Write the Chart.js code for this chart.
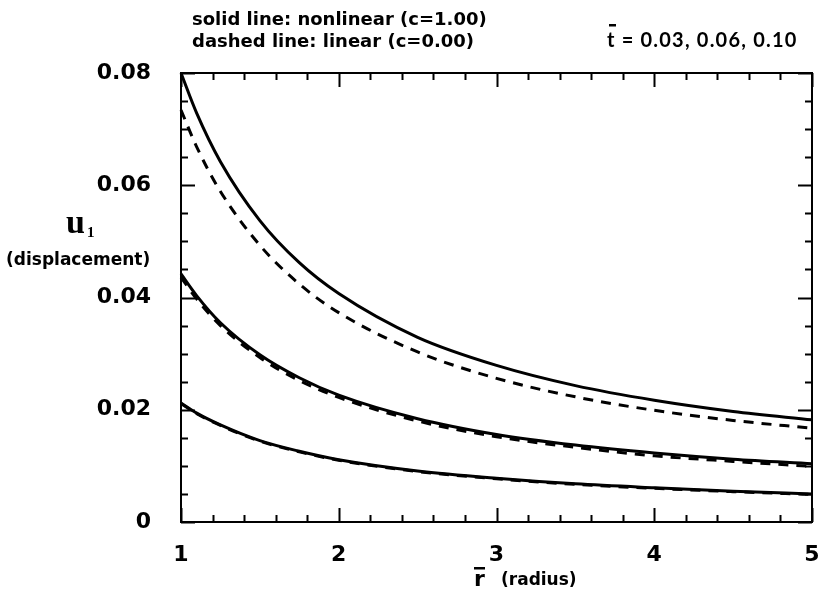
<!DOCTYPE html>
<html><head><meta charset="utf-8">
<script src="https://cdn.jsdelivr.net/npm/chart.js@4"></script>
<style>html,body{margin:0;padding:0;background:#fff}#wrap{width:824px;height:603px;position:relative}</style>
</head><body><div id="wrap"><canvas id="c" width="824" height="603"></canvas></div>
<script>
// radius values (x) at which the curves were read
const radius = [1, 1.1, 1.25, 1.5, 1.75, 2, 2.5, 3, 3.5, 4, 4.5, 5];
// t = 0.10
const nonlinear_t010 = [0.0800, 0.0728, 0.0642, 0.0537, 0.0462, 0.0407, 0.0329, 0.0279, 0.0243, 0.0217, 0.0197, 0.0182];
const linear_t010    = [0.0734, 0.0668, 0.0589, 0.0493, 0.0424, 0.0373, 0.0303, 0.0256, 0.0223, 0.0199, 0.0181, 0.0167];
// t = 0.06
const nonlinear_t006 = [0.0442, 0.0403, 0.0355, 0.0298, 0.0257, 0.0226, 0.0184, 0.0156, 0.0137, 0.0123, 0.0112, 0.0104];
const linear_t006    = [0.0436, 0.0397, 0.0350, 0.0293, 0.0252, 0.0222, 0.0180, 0.0152, 0.0133, 0.0118, 0.0108, 0.0099];
// t = 0.03
const nonlinear_t003 = [0.0212, 0.0194, 0.0173, 0.0145, 0.0126, 0.0111, 0.0091, 0.0078, 0.0068, 0.0061, 0.0055, 0.0050];
const linear_t003    = [0.0211, 0.0193, 0.0172, 0.0144, 0.0125, 0.0110, 0.0090, 0.0077, 0.0067, 0.0060, 0.0054, 0.0049];

const xTickLabels = [1, 2, 3, 4, 5];
const yTickLabels = [0, 0.02, 0.04, 0.06, 0.08];
const xMinorStep = 0.2;
const yMinorStep = 0.005;

const titleLine1 = 'solid line: nonlinear (c=1.00)';
const titleLine2 = 'dashed line: linear (c=0.00)';
const tLabel = 't = 0.03, 0.06, 0.10';
const yLabelMain = 'u';
const yLabelSub = '1';
const yLabelDesc = '(displacement)';
const xLabelMain = 'r';
const xLabelDesc = '(radius)';

const SANS = '"DejaVu Sans", "Liberation Sans", sans-serif';

function pts(arr) { return radius.map((r, i) => ({ x: r, y: arr[i] })); }
function ds(arr, dashed) {
  return {
    data: pts(arr), borderColor: '#000', borderWidth: 3, pointRadius: 0,
    borderDash: dashed ? [10, 8] : [], cubicInterpolationMode: 'monotone',
    fill: false, clip: 4
  };
}

const framePlugin = {
  id: 'frame',
  afterDatasetsDraw(chart) {
    const ctx = chart.ctx, a = chart.chartArea;
    const xs = chart.scales.x, ys = chart.scales.y;
    ctx.save();
    ctx.strokeStyle = '#000';
    ctx.lineWidth = 2;
    ctx.strokeRect(a.left, a.top, a.right - a.left, a.bottom - a.top);
    ctx.beginPath();
    for (let v = xs.min; v <= xs.max + 1e-9; v += xMinorStep) {
      const isMajor = Math.abs(v - Math.round(v)) < 1e-6;
      const L = isMajor ? 14 : 7;
      const px = Math.round(xs.getPixelForValue(v)) + 0.5;
      ctx.moveTo(px, a.bottom); ctx.lineTo(px, a.bottom - L);
      ctx.moveTo(px, a.top); ctx.lineTo(px, a.top + L);
    }
    for (let v = ys.min; v <= ys.max + 1e-9; v += yMinorStep) {
      const isMajor = Math.abs(v / 0.02 - Math.round(v / 0.02)) < 1e-6;
      const L = isMajor ? 14 : 7;
      const py = Math.round(ys.getPixelForValue(v)) + 0.5;
      ctx.moveTo(a.left, py); ctx.lineTo(a.left + L, py);
      ctx.moveTo(a.right, py); ctx.lineTo(a.right - L, py);
    }
    ctx.stroke();
    ctx.restore();
  }
};

const textPlugin = {
  id: 'texts',
  afterDraw(chart) {
    const ctx = chart.ctx;
    ctx.save();
    ctx.fillStyle = '#000';
    ctx.textBaseline = 'alphabetic';
    ctx.textAlign = 'left';
    ctx.font = 'bold 18px ' + SANS;
    ctx.fillText(titleLine1, 192, 25);
    ctx.fillText(titleLine2, 192, 47);
    ctx.letterSpacing = '1.2px';
    ctx.font = 'bold 20px Lato, "DejaVu Sans", sans-serif';
    ctx.fillText(tLabel, 607, 47);
    ctx.letterSpacing = '0px';
    ctx.fillRect(609, 24, 7, 2.5);
    // y label
    ctx.font = 'bold 34px "Liberation Serif", serif';
    ctx.fillText(yLabelMain, 66, 233);
    ctx.font = 'bold 15px "Liberation Serif", serif';
    ctx.fillText(yLabelSub, 87, 237);
    ctx.font = 'bold 17px ' + SANS;
    ctx.fillText(yLabelDesc, 6, 265);
    // x label
    ctx.font = 'bold 22px ' + SANS;
    ctx.fillText(xLabelMain, 474, 586);
    ctx.fillRect(474, 567, 11, 2.5);
    ctx.font = 'bold 17px ' + SANS;
    ctx.fillText(xLabelDesc, 501, 585);
    ctx.restore();
  }
};

new Chart(document.getElementById('c'), {
  type: 'line',
  data: {
    datasets: [
      ds(nonlinear_t010, false), ds(linear_t010, true),
      ds(nonlinear_t006, false), ds(linear_t006, true),
      ds(nonlinear_t003, false), ds(linear_t003, true)
    ]
  },
  options: {
    responsive: false, animation: false, devicePixelRatio: 1,
    layout: { padding: { left: 0, right: 12, top: 73, bottom: 0 } },
    plugins: { legend: { display: false }, tooltip: { enabled: false } },
    scales: {
      x: {
        type: 'linear', min: 1, max: 5,
        grid: { display: false }, border: { display: false },
        afterBuildTicks(s) { s.ticks = xTickLabels.map(v => ({ value: v })); },
        afterFit(s) { s.height = 81; s.paddingLeft = 0; s.paddingRight = 0; },
        ticks: {
          color: '#000', padding: 12, maxRotation: 0,
          font: { family: SANS, size: 22, weight: 'bold' },
          callback: v => String(v)
        }
      },
      y: {
        type: 'linear', min: 0, max: 0.08,
        grid: { display: false }, border: { display: false },
        afterBuildTicks(s) { s.ticks = yTickLabels.map(v => ({ value: v })); },
        afterFit(s) { s.width = 181; s.paddingTop = 0; s.paddingBottom = 0; },
        ticks: {
          color: '#000', padding: 22,
          font: { family: SANS, size: 22, weight: 'bold' },
          callback: v => (v === 0 ? '0' : v.toFixed(2))
        }
      }
    }
  },
  plugins: [framePlugin, textPlugin]
});
</script>
</body></html>
